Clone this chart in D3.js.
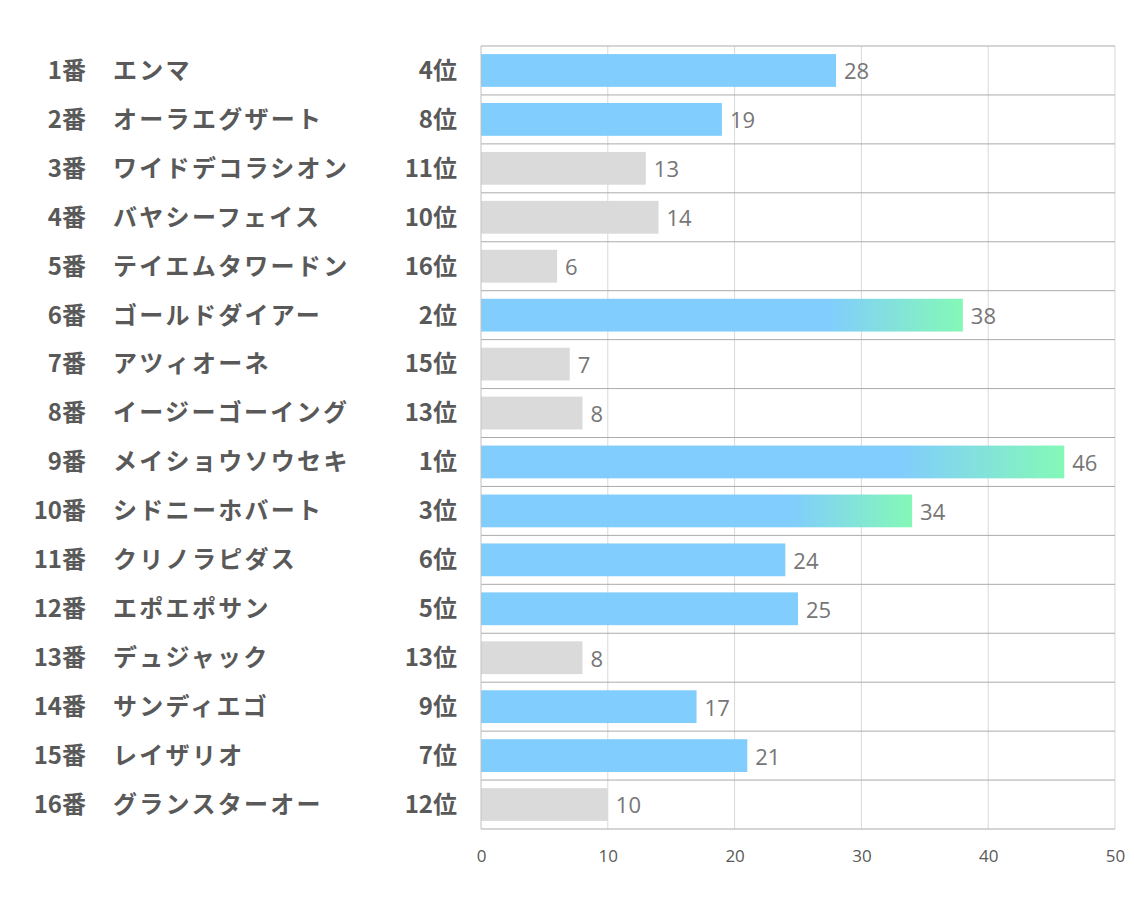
<!DOCTYPE html>
<html><head><meta charset="utf-8">
<script src="https://cdn.jsdelivr.net/npm/d3@7"></script>
<style>
body{margin:0;background:#fff;}
svg{display:block;}
</style></head>
<body>
<svg id="chart" width="1134" height="907"></svg>
<script>
const numbers = ["1番","2番","3番","4番","5番","6番","7番","8番","9番","10番","11番","12番","13番","14番","15番","16番"];
const names = ["エンマ","オーラエグザート","ワイドデコラシオン","バヤシーフェイス","テイエムタワードン","ゴールドダイアー","アツィオーネ","イージーゴーイング","メイショウソウセキ","シドニーホバート","クリノラピダス","エポエポサン","デュジャック","サンディエゴ","レイザリオ","グランスターオー"];
const ranks = ["4位","8位","11位","10位","16位","2位","15位","13位","1位","3位","6位","5位","13位","9位","7位","12位"];
const values = [28,19,13,14,6,38,7,8,46,34,24,25,8,17,21,10];
const xTicks = [0,10,20,30,40,50];

(function(){
const svg = d3.select("#chart");
const pL = 481, pR = 1115, pT = 46, pB = 829;
const x = d3.scaleLinear().domain([0,50]).range([pL,pR]);
const y = d3.scaleBand().domain(d3.range(values.length)).range([pT,pB]).paddingInner(0.33).paddingOuter(0.165);
const rowY = d3.scaleBand().domain(d3.range(values.length)).range([pT,pB]);

const defs = svg.append("defs");
const grad = defs.append("linearGradient").attr("id","grad").attr("x1","0").attr("x2","1").attr("y1","0").attr("y2","0");
grad.append("stop").attr("offset","0.72").attr("stop-color","#7ccbfd");
grad.append("stop").attr("offset","1").attr("stop-color","#7ff8b4");

svg.append("g").selectAll("line").data(xTicks.slice(1)).join("line")
  .attr("x1",d=>x(d)).attr("x2",d=>x(d)).attr("y1",pT).attr("y2",pB)
  .attr("stroke","#d9d9d9").attr("stroke-width",1);

const rankNum = ranks.map(r=>parseInt(r));
svg.append("g").selectAll("rect").data(values).join("rect")
  .attr("x",x(0)).attr("y",(d,i)=>y(i)).attr("width",d=>x(d)-x(0)).attr("height",y.bandwidth())
  .attr("fill",(d,i)=> rankNum[i]<=3 ? "url(#grad)" : (rankNum[i]<=9 ? "#7ccbfd" : "#d9d9d9"))
  .attr("fill-opacity",0.96);

svg.append("g").selectAll("line").data(d3.range(values.length+1)).join("line")
  .attr("x1",pL).attr("x2",pR)
  .attr("y1",i=> i<values.length ? rowY(i) : pB).attr("y2",i=> i<values.length ? rowY(i) : pB)
  .attr("stroke","#ababab").attr("stroke-width",1);
svg.append("line").attr("x1",pL).attr("x2",pL).attr("y1",pT).attr("y2",pB).attr("stroke","#c0c0c0");

svg.append("g").selectAll("text").data(values).join("text")
  .attr("x",d=>x(d)+8).attr("y",(d,i)=>rowY(i)+rowY.bandwidth()/2+1)
  .attr("dy","0.36em").attr("font-family","'Open Sans','Noto Sans',sans-serif")
  .attr("font-size",22).attr("fill","#767676").text(d=>d);

const xAxis = d3.axisBottom(x).tickValues(xTicks).tickSize(0).tickPadding(0);
const ax = svg.append("g").attr("transform",`translate(0,${pB+21})`).call(xAxis);
ax.select(".domain").remove();
ax.selectAll("text").attr("font-family","'Open Sans','Noto Sans',sans-serif").attr("font-size",17).attr("fill","#595959");

const lab = svg.append("g").attr("font-family","'Noto Sans CJK JP',sans-serif").attr("font-weight",700).attr("font-size",24).attr("fill","#595959");
lab.selectAll("text.num").data(numbers).join("text").attr("class","num")
  .attr("x",86).attr("y",(d,i)=>rowY(i)+rowY.bandwidth()/2).attr("dy","0.35em").attr("text-anchor","end").text(d=>d);
lab.selectAll("text.name").data(names).join("text").attr("class","name")
  .attr("x",113).attr("y",(d,i)=>rowY(i)+rowY.bandwidth()/2).attr("dy","0.35em").attr("letter-spacing","2.3px").text(d=>d);
lab.selectAll("text.rank").data(ranks).join("text").attr("class","rank")
  .attr("x",457).attr("y",(d,i)=>rowY(i)+rowY.bandwidth()/2).attr("dy","0.35em").attr("text-anchor","end").text(d=>d);
})();
</script>
</body></html>
